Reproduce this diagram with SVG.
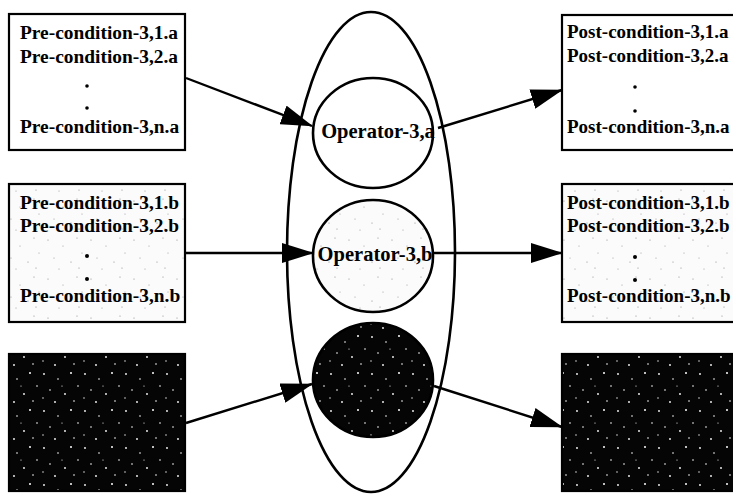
<svg xmlns="http://www.w3.org/2000/svg" width="733" height="495" viewBox="0 0 733 495">
<style>
.box{stroke:#000;stroke-width:2.2}
.t{font-family:"Liberation Serif","Times New Roman",serif;font-weight:bold;font-size:19.4px;fill:#000}
.tp{font-size:19px}
.op{font-family:"Liberation Serif","Times New Roman",serif;font-weight:bold;font-size:20.5px;fill:#000;text-anchor:middle}
.ring{fill:none;stroke:#000;stroke-width:2.6}
.circ{stroke:#000;stroke-width:2.6}
.conn line{stroke:#000;stroke-width:2.4;marker-end:url(#ah)}
</style>
<defs>
<marker id="ah" markerUnits="userSpaceOnUse" markerWidth="32" markerHeight="20" refX="31" refY="10" orient="auto">
<path d="M0,0 L32,10 L0,20 Z" fill="#000"/>
</marker>
<pattern id="dark" width="41" height="37" patternUnits="userSpaceOnUse">
<rect width="41" height="37" fill="#050505"/>
<g fill="#fff">
<circle cx="3" cy="4" r="0.9"/><circle cx="17" cy="9" r="0.8"/><circle cx="30" cy="3" r="1"/>
<circle cx="9" cy="20" r="0.8"/><circle cx="24" cy="24" r="0.9"/><circle cx="37" cy="16" r="0.8"/>
<circle cx="14" cy="32" r="0.9"/><circle cx="33" cy="31" r="0.8"/><circle cx="2" cy="28" r="0.7"/>
<circle cx="21" cy="16" r="0.6"/>
</g>
</pattern>
<pattern id="light" width="43" height="39" patternUnits="userSpaceOnUse">
<rect width="43" height="39" fill="#fbfbfb"/>
<g fill="#888">
<circle cx="5" cy="6" r="0.6"/><circle cx="20" cy="12" r="0.5"/><circle cx="34" cy="4" r="0.6"/>
<circle cx="11" cy="24" r="0.5"/><circle cx="28" cy="28" r="0.6"/><circle cx="39" cy="19" r="0.5"/>
<circle cx="16" cy="35" r="0.5"/><circle cx="36" cy="34" r="0.6"/>
</g>
</pattern>
</defs>
<rect width="733" height="495" fill="#fff"/>

<g id="pre-a">
<rect class="box" x="9" y="14" width="176" height="136" fill="#fff"/>
<text class="t" x="20" y="39">Pre-condition-3,1.a</text>
<text class="t" x="20" y="63">Pre-condition-3,2.a</text>
<circle cx="87" cy="86" r="1.8"/>
<circle cx="87" cy="108" r="1.8"/>
<text class="t" x="20" y="133">Pre-condition-3,n.a</text>
</g>

<g id="pre-b">
<rect class="box" x="9" y="184" width="176" height="138" fill="url(#light)"/>
<text class="t" x="20" y="209">Pre-condition-3,1.b</text>
<text class="t" x="20" y="232">Pre-condition-3,2.b</text>
<circle cx="87" cy="256" r="2"/>
<circle cx="87" cy="279" r="2"/>
<text class="t" x="20" y="302">Pre-condition-3,n.b</text>
</g>

<g id="pre-c">
<rect class="box" x="9" y="354" width="176" height="137" fill="url(#dark)"/>
</g>

<g id="post-a">
<rect class="box" x="562" y="15" width="180" height="135" fill="#fff"/>
<text class="t tp" x="567" y="38">Post-condition-3,1.a</text>
<text class="t tp" x="567" y="62">Post-condition-3,2.a</text>
<circle cx="635" cy="87" r="1.8"/>
<circle cx="635" cy="111" r="1.8"/>
<text class="t tp" x="567" y="133">Post-condition-3,n.a</text>
</g>

<g id="post-b">
<rect class="box" x="562" y="184" width="180" height="138" fill="url(#light)"/>
<text class="t tp" x="567" y="209">Post-condition-3,1.b</text>
<text class="t tp" x="567" y="232">Post-condition-3,2.b</text>
<circle cx="635" cy="257" r="2"/>
<circle cx="635" cy="280" r="2"/>
<text class="t tp" x="567" y="302">Post-condition-3,n.b</text>
</g>

<g id="post-c">
<rect class="box" x="562" y="354" width="180" height="137" fill="url(#dark)"/>
</g>

<g id="operator-group">
<ellipse class="ring" cx="371" cy="252" rx="84" ry="240"/>
</g>

<g id="op-a">
<ellipse class="circ" cx="373" cy="133" rx="60" ry="55" fill="#fff"/>
<text class="op" x="378" y="138">Operator-3,a</text>
</g>

<g id="op-b">
<ellipse class="circ" cx="373" cy="256" rx="60" ry="56" fill="url(#light)"/>
<text class="op" x="375" y="261">Operator-3,b</text>
</g>

<g id="op-c">
<ellipse class="circ" cx="373" cy="380" rx="60" ry="57" fill="url(#dark)"/>
</g>

<g id="connectors" class="conn">
<line x1="186" y1="78" x2="312" y2="126"/>
<line x1="438" y1="128" x2="562" y2="90"/>
<line x1="186" y1="253" x2="313" y2="253"/>
<line x1="434" y1="253" x2="562" y2="253"/>
<line x1="186" y1="423" x2="312" y2="384"/>
<line x1="434" y1="386" x2="562" y2="427"/>
</g>
</svg>
